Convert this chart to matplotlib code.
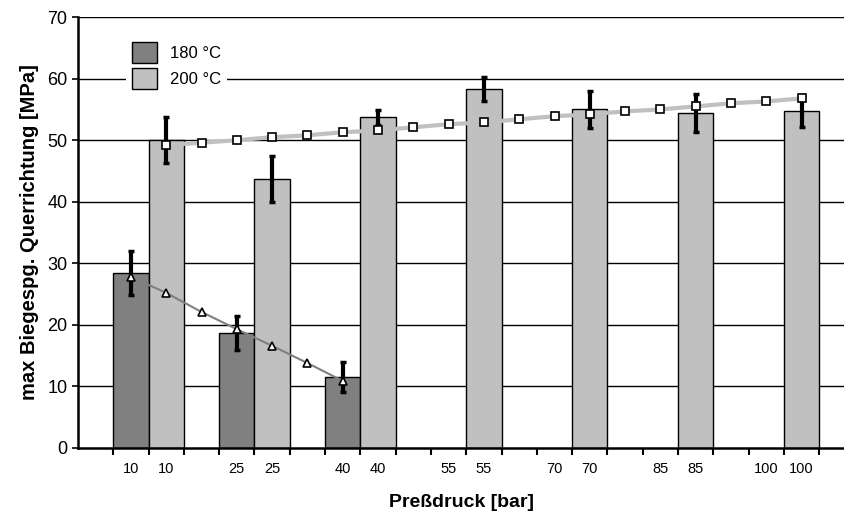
import numpy as np
import matplotlib.pyplot as plt

plt.rcParams['font.family'] = ['Liberation Sans', 'DejaVu Sans']

# pressure groups; each group takes three slots: 180 °C bar, 200 °C bar, gap
pressures = [10, 25, 40, 55, 70, 85, 100]
val_180 = [28.4, 18.7, 11.5, None, None, None, None]
err_180 = [3.6, 2.7, 2.4, None, None, None, None]
val_200 = [50.0, 43.7, 53.7, 58.3, 55.0, 54.4, 54.7]
err_200 = [3.7, 3.7, 1.2, 2.0, 3.0, 3.1, 2.6]

# trend points, one per slot
trend_180 = [27.8, 25.2, 22.1, 19.3, 16.6, 13.8, 10.9]
trend_200 = [49.2, 49.6, 50.0, 50.5, 50.8, 51.3, 51.6, 52.1, 52.6, 52.9,
             53.4, 53.9, 54.2, 54.7, 55.0, 55.5, 56.0, 56.3, 56.8]

fig = plt.figure(figsize=(8.45, 5.16), dpi=100)
ax = fig.add_axes([0.0923, 0.1318, 0.9077, 0.835])

pos_180 = [3 * i + 1 for i in range(len(pressures))]
pos_200 = [3 * i + 2 for i in range(len(pressures))]

ax.set_ylim(0, 70)
ax.set_yticks(range(0, 71, 10))
for y in range(10, 71, 10):
    ax.axhline(y, color='black', lw=1.0, zorder=0)

x180 = [p for p, v in zip(pos_180, val_180) if v is not None]
v180 = [v for v in val_180 if v is not None]
e180 = [e for e in err_180 if e is not None]
ax.bar(x180, v180, width=1.0, color='#808080', edgecolor='black', lw=1.0,
       label='180 °C', zorder=2)
ax.bar(pos_200, val_200, width=1.0, color='#c0c0c0', edgecolor='black', lw=1.0,
       label='200 °C', zorder=2)

ax.errorbar(x180, v180, yerr=e180, fmt='none', ecolor='black', elinewidth=3,
            capsize=2.5, capthick=2.5, zorder=3)
ax.errorbar(pos_200, val_200, yerr=err_200, fmt='none', ecolor='black',
            elinewidth=3, capsize=2.5, capthick=2.5, zorder=3)

ax.plot(np.arange(1, 1 + len(trend_180)), trend_180, color='#808080', lw=1.5,
        marker='^', ms=6, mfc='white', mec='black', mew=1.2, zorder=4)
ax.plot(np.arange(2, 2 + len(trend_200)), trend_200, color='#c0c0c0', lw=3,
        marker='s', ms=5.5, mfc='white', mec='black', mew=1.2, zorder=4)

ax.set_xlim(-0.5, 21.23)
ax.set_xticks(np.arange(0.5, 21, 1.0))
ax.set_xticks(pos_180 + pos_200, minor=True)
ax.set_xticklabels([])
ax.set_xticklabels([str(p) for p in pressures] + [str(p) for p in pressures],
                   minor=True)
ax.tick_params(axis='x', which='major', direction='out', length=5, width=1.5,
               color='black')
ax.tick_params(axis='x', which='minor', length=0, labelsize=10.5, pad=10)
ax.tick_params(axis='y', direction='out', length=4, width=1.2, labelsize=13)

for side in ['top', 'right']:
    ax.spines[side].set_visible(False)
ax.spines['left'].set_linewidth(1.8)
ax.spines['bottom'].set_linewidth(1.8)

ax.set_ylabel('max Biegespg. Querrichtung [MPa]', fontsize=14.5,
              fontweight='bold', labelpad=6)
ax.set_xlabel('Preßdruck [bar]', fontsize=14, fontweight='bold', labelpad=13)

leg = ax.legend(loc='upper left', bbox_to_anchor=(0.052, 0.975), frameon=True,
                fontsize=12, handlelength=1.5, handleheight=1.6,
                labelspacing=0.25, borderpad=0.35, handletextpad=0.8)
leg.get_frame().set_edgecolor('none')
leg.get_frame().set_facecolor('white')
leg.get_frame().set_alpha(1.0)
leg.set_zorder(5)

fig.savefig('out.png', dpi=100)
